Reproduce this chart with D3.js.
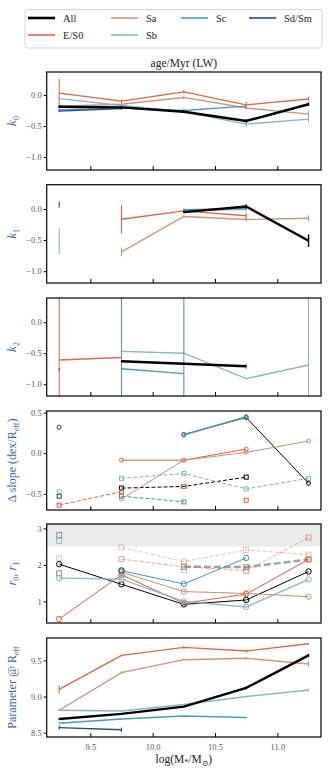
<!DOCTYPE html>
<html><head><meta charset="utf-8">
<script src="https://cdn.jsdelivr.net/npm/d3@7"></script>
<style>body{margin:0;background:#fff}svg{display:block}text{font-family:"Liberation Serif","DejaVu Serif",serif}</style>
</head><body><svg id="c" width="332" height="775"></svg>
<script>
// ---------- DATA ----------
const massBins = [9.25, 9.75, 10.25, 10.75, 11.25];
const xTicks = [9.5, 10.0, 10.5, 11.0];
const groups = ["All", "E/S0", "Sa", "Sb", "Sc", "Sd/Sm"];
const groupColors = ["#000000", "#d95f45", "#c4907a", "#88afbd", "#4b91b3", "#1d3d78"];
const titleText = "age/Myr (LW)";

// k0
const k0_All = [-0.19, -0.20, -0.27, -0.42, -0.15];
const k0_ES0 = [0.03, -0.10, 0.05, -0.16, -0.065];
const k0_Sa  = [-0.18, -0.15, -0.04, -0.21, -0.31];
const k0_Sb  = [-0.06, -0.17, -0.27, -0.47, -0.39];
const k0_Sc  = [-0.24, -0.21, -0.25, -0.18, null];
const k0_Sd  = [-0.26, -0.22, null, null, null];
const k0e_All = [0.02, 0.02, 0.02, 0.03, 0.03];
const k0e_ES0 = [0.23, 0.03, 0.03, 0.05, 0.03];
const k0e_Sa  = [0.02, 0.03, 0.03, 0.03, 0.05];
const k0e_Sb  = [0.03, 0.02, 0.02, 0.05, 0.05];
const k0e_Sc  = [0.02, 0.02, 0.03, 0.03, null];
const k0e_Sd  = [0.02, 0.02, null, null, null];
const k0Ticks = [0.0, -0.5, -1.0];

// k1
const k1_All = [null, null, -0.05, 0.04, -0.51];
const k1_ES0 = [null, -0.165, -0.03, -0.11, null];
const k1_Sa  = [null, -0.69, -0.12, -0.17, -0.15];
const k1_Sb  = [-0.52, null, -0.02, -0.01, null];
const k1_Sc  = [null, null, -0.01, 0.01, null];
const k1_Sd  = [0.07, null, null, null, null];
const k1e_All = [null, null, 0.02, 0.03, 0.10];
const k1e_ES0 = [null, 0.23, 0.02, 0.05, null];
const k1e_Sa  = [null, 0.07, 0.02, 0.03, 0.05];
const k1e_Sb  = [0.21, null, 0.02, 0.02, null];
const k1e_Sc  = [null, null, 0.03, 0.03, null];
const k1e_Sd  = [0.05, null, null, null, null];
const k1Ticks = [0.0, -0.5, -1.0];

// k2
const k2_All = [null, -0.63, -0.67, -0.71, null];
const k2_ES0 = [-0.61, -0.57, null, -0.72, null];
const k2_Sa  = [null, null, null, null, null];
const k2_Sb  = [null, -0.47, -0.50, -0.91, -0.69];
const k2_Sc  = [null, -0.75, -0.83, null, null];
const k2_Sd  = [-0.76, null, null, null, null];
const k2e_All = [null, 0.01, 0.01, 0.01, null];
const k2e_ES0 = [9, 0.01, null, 0.04, null];
const k2e_Sa  = [null, null, null, null, null];
const k2e_Sb  = [null, 0.01, 0.01, 0.01, 9];
const k2e_Sc  = [null, 9, 9, null, null];
const k2e_Sd  = [0.02, null, null, null, null];
const k2Ticks = [0.0, -0.5, -1.0];

// Delta slope: circles (solid) and squares (dashed)
const ds_c_All = [null, null, 0.23, 0.44, -0.37];
const ds_c_ES0 = [null, -0.086, -0.086, 0.05, null];
const ds_c_Sa  = [null, -0.565, -0.086, 0.01, 0.15];
const ds_c_Sb  = [-0.47, null, 0.22, 0.45, null];
const ds_c_Sc  = [null, null, 0.23, 0.45, null];
const ds_c_Sd  = [0.32, null, null, null, null];
const ds_s_All = [null, -0.43, -0.41, -0.295, null];
const ds_s_ES0 = [-0.64, -0.475, null, -0.58, null];
const ds_s_Sa  = [null, null, -0.41, null, null];
const ds_s_Sb  = [null, -0.31, -0.25, -0.44, -0.31];
const ds_s_Sc  = [null, -0.53, -0.60, null, null];
const ds_s_Sd  = [-0.53, null, null, null, null];
const dsTicks = [0.5, 0.0, -0.5];

// r0 (circles, solid) and r1 (squares, dashed)
const r_c_All = [2.02, 1.47, 0.92, 1.04, 1.82];
const r_c_ES0 = [0.52, 1.73, 0.95, 1.20, 2.15];
const r_c_Sa  = [null, 1.80, 1.27, 1.22, 1.13];
const r_c_Sb  = [1.64, 1.61, 1.00, 0.85, 1.60];
const r_c_Sc  = [null, 1.84, 1.48, 2.19, null];
const r_c_Sd  = [null, 1.85, null, null, null];
const r_s_All = [2.82, null, 1.95, 1.94, 2.15];
const r_s_ES0 = [null, 2.16, 1.95, 1.84, 2.75];
const r_s_Sa  = [null, 2.48, 2.09, 2.41, 2.28];
const r_s_Sb  = [2.18, null, 1.86, null, null];
const r_s_Sc  = [2.66, null, null, null, null];
const r_s_Sd  = [1.77, null, null, null, null];
const rTicks = [1, 2, 3];
const rBand = 2.5;

// Parameter @ Reff
const p_All = [8.69, 8.76, 8.86, 9.12, 9.57];
const p_ES0 = [9.10, 9.57, 9.68, 9.63, 9.73];
const p_Sa  = [8.81, 9.33, 9.51, 9.53, 9.45];
const p_Sb  = [8.81, 8.80, 8.89, 9.00, 9.09];
const p_Sc  = [8.63, 8.69, 8.73, 8.71, null];
const p_Sd  = [8.57, 8.54, null, null, null];
const pe_All = [0.01, 0.01, 0.01, 0.02, 0.02];
const pe_ES0 = [0.06, 0.01, 0.02, 0.02, 0.01];
const pe_Sa  = [0.01, 0.02, 0.01, 0.02, 0.04];
const pe_Sb  = [0.01, 0.01, 0.01, 0.01, 0.02];
const pe_Sc  = [0.01, 0.01, 0.01, 0.01, null];
const pe_Sd  = [0.03, 0.03, null, null, null];
const pTicks = [8.5, 9.0, 9.5];

// ---------- LAYOUT ----------
const svg = d3.select("#c");
const L = 46.7, R = 321;
const x = d3.scaleLinear().domain([9.15, 11.35]).range([L, R]);
const tickCol = "#4d5566", labCol = "#3f64a6";

const panels = [
  {top: 72, bot: 170, dom: [-1.21, 0.37], ticks: k0Ticks, fmt: d3.format(".1f")},
  {top: 184.7, bot: 283, dom: [-1.19, 0.39], ticks: k1Ticks, fmt: d3.format(".1f")},
  {top: 298, bot: 396, dom: [-1.19, 0.39], ticks: k2Ticks, fmt: d3.format(".1f")},
  {top: 411, bot: 510, dom: [-0.70, 0.52], ticks: dsTicks, fmt: d3.format(".1f")},
  {top: 524, bot: 623, dom: [0.41, 3.12], ticks: rTicks, fmt: d3.format("d")},
  {top: 638, bot: 737, dom: [8.44, 9.81], ticks: pTicks, fmt: d3.format(".1f")}
];
panels.forEach((p, i) => {
  p.y = d3.scaleLinear().domain(p.dom).range([p.bot, p.top]);
  p.g = svg.append("g");
  svg.append("clipPath").attr("id", "clip" + i).append("rect")
    .attr("x", L).attr("y", p.top).attr("width", R - L).attr("height", p.bot - p.top);
});

function minusFmt(f){ return v => f(v).replace("-", "\u2212"); }

function frame(p, i, showX) {
  const g = p.g;
  const ya = g.append("g").attr("transform", `translate(${L},0)`)
    .call(d3.axisLeft(p.y).tickValues(p.ticks).tickFormat(minusFmt(p.fmt)).tickSize(3).tickPadding(2));
  ya.attr("font-family", null);
  ya.select(".domain").remove();
  ya.selectAll("text").attr("fill", tickCol).style("font-size", "8.5px").style("font-family", '"Liberation Serif",serif');
  ya.selectAll("line").attr("stroke", "#000");
  const xa = g.append("g").attr("transform", `translate(0,${p.bot})`)
    .call(d3.axisBottom(x).tickValues(xTicks).tickFormat(showX ? d3.format(".1f") : "").tickSizeInner(-4).tickSizeOuter(0).tickPadding(7));
  xa.attr("font-family", null);
  xa.select(".domain").remove();
  xa.selectAll("text").attr("fill", tickCol).style("font-size", "8.5px").style("font-family", '"Liberation Serif",serif');
  xa.selectAll("line").attr("stroke", "#000");
}
function border(p) {
  p.g.append("rect").attr("x", L).attr("y", p.top).attr("width", R - L).attr("height", p.bot - p.top)
    .attr("fill", "none").attr("stroke", "#000").attr("stroke-width", 1.2);
}

function linePanel(p, i, vals, errs) {
  const g = p.g.append("g").attr("clip-path", `url(#clip${i})`);
  const order = [1, 2, 3, 4, 5, 0];
  order.forEach(k => {
    const v = vals[k], e = errs[k], col = groupColors[k];
    const pts = massBins.map((m, j) => ({m, v: v[j], e: e[j]}));
    const line = d3.line().defined(d => d.v != null).x(d => x(d.m)).y(d => p.y(d.v));
    g.append("path").attr("d", line(pts)).attr("fill", "none").attr("stroke", col)
      .attr("stroke-width", k === 0 ? 2.4 : 1.4).attr("stroke-opacity", k === 0 ? 1 : 0.95);
    pts.filter(d => d.v != null && d.e != null).forEach(d => {
      g.append("line").attr("x1", x(d.m)).attr("x2", x(d.m))
        .attr("y1", p.y(d.v - d.e)).attr("y2", p.y(d.v + d.e))
        .attr("stroke", col).attr("stroke-width", k === 0 ? 1.4 : 1);
    });
  });
}

function markerPanel(p, i, circ, sq, opts) {
  const g = p.g.append("g").attr("clip-path", `url(#clip${i})`);
  const order = [0, 1, 2, 3, 4, 5];
  const line = d3.line().defined(d => d.v != null).x(d => x(d.m)).y(d => p.y(d.v));
  order.forEach(k => {
    const col = (k === 0 && opts.allSqCol) ? opts.allSqCol : groupColors[k];
    const pts = massBins.map((m, j) => ({m, v: sq[k][j]}));
    g.append("path").attr("d", line(pts)).attr("fill", "none").attr("stroke", col)
      .attr("stroke-width", k === 0 ? opts.allSqW : 1).attr("stroke-dasharray", k === 0 ? opts.allDash : opts.dash)
      .attr("stroke-opacity", opts.sqOp);
    pts.filter(d => d.v != null).forEach(d => {
      g.append("rect").attr("x", x(d.m) - opts.sq / 2).attr("y", p.y(d.v) - opts.sq / 2)
        .attr("width", opts.sq).attr("height", opts.sq).attr("fill", "none")
        .attr("stroke", col).attr("stroke-width", 1).attr("stroke-opacity", opts.sqOp);
    });
  });
  order.forEach(k => {
    const col = groupColors[k];
    const pts = massBins.map((m, j) => ({m, v: circ[k][j]}));
    g.append("path").attr("d", line(pts)).attr("fill", "none").attr("stroke", col)
      .attr("stroke-width", k === 3 ? 1.5 : 1).attr("stroke-opacity", k === 3 ? 0.85 : 1);
    pts.filter(d => d.v != null).forEach(d => {
      g.append("circle").attr("cx", x(d.m)).attr("cy", p.y(d.v)).attr("r", opts.r)
        .attr("fill", "none").attr("stroke", col).attr("stroke-width", 1);
    });
  });
}

{
  const p = panels[4];
  p.g.append("rect").attr("x", L).attr("y", p.top).attr("width", R - L)
    .attr("height", p.y(rBand) - p.top).attr("fill", "#ebebeb");
}

panels.forEach((p, i) => frame(p, i, i === 5));

linePanel(panels[0], 0, [k0_All, k0_ES0, k0_Sa, k0_Sb, k0_Sc, k0_Sd], [k0e_All, k0e_ES0, k0e_Sa, k0e_Sb, k0e_Sc, k0e_Sd]);
linePanel(panels[1], 1, [k1_All, k1_ES0, k1_Sa, k1_Sb, k1_Sc, k1_Sd], [k1e_All, k1e_ES0, k1e_Sa, k1e_Sb, k1e_Sc, k1e_Sd]);
linePanel(panels[2], 2, [k2_All, k2_ES0, k2_Sa, k2_Sb, k2_Sc, k2_Sd], [k2e_All, k2e_ES0, k2e_Sa, k2e_Sb, k2e_Sc, k2e_Sd]);
markerPanel(panels[3], 3, [ds_c_All, ds_c_ES0, ds_c_Sa, ds_c_Sb, ds_c_Sc, ds_c_Sd], [ds_s_All, ds_s_ES0, ds_s_Sa, ds_s_Sb, ds_s_Sc, ds_s_Sd],
  {r: 2, sq: 4, dash: "4,2", allDash: "4,2", allSqW: 1, sqOp: 1});
markerPanel(panels[4], 4, [r_c_All, r_c_ES0, r_c_Sa, r_c_Sb, r_c_Sc, r_c_Sd], [r_s_All, r_s_ES0, r_s_Sa, r_s_Sb, r_s_Sc, r_s_Sd],
  {r: 2.7, sq: 5, dash: "4,2", allDash: "7,3", allSqW: 2.5, sqOp: 0.55, allSqCol: "#555"});
linePanel(panels[5], 5, [p_All, p_ES0, p_Sa, p_Sb, p_Sc, p_Sd], [pe_All, pe_ES0, pe_Sa, pe_Sb, pe_Sc, pe_Sd]);

panels.forEach(border);

// ---------- TEXT ----------
svg.append("text").attr("x", (L + R) / 2).attr("y", 67).attr("text-anchor", "middle")
  .style("font-size", "11.5px").attr("fill", "#222").text(titleText);

function ylab(p, parts, xpos, fs) {
  const cy = (p.top + p.bot) / 2;
  const t = svg.append("text").attr("transform", `translate(${xpos},${cy}) rotate(-90)`)
    .attr("text-anchor", "middle").attr("fill", labCol).style("font-size", (fs || 11.5) + "px");
  parts.forEach(pt => {
    const s = t.append("tspan").text(pt.t);
    if (pt.i) s.style("font-style", "italic");
    if (pt.sub) s.style("font-size", "8px").attr("dy", 3);
    if (pt.up) s.attr("dy", -3);
  });
}
ylab(panels[0], [{t: "k", i: 1}, {t: "0", sub: 1}], 16, 13);
ylab(panels[1], [{t: "k", i: 1}, {t: "1", sub: 1}], 16, 13);
ylab(panels[2], [{t: "k", i: 1}, {t: "2", sub: 1}], 16, 13);
ylab(panels[3], [{t: "\u0394 slope (dex/R"}, {t: "eff", sub: 1}, {t: ")", up: 1}], 16, 12);
ylab(panels[4], [{t: "r", i: 1}, {t: "0", sub: 1}, {t: ", ", up: 1}, {t: "r", i: 1}, {t: "1", sub: 1}], 16, 12.5);
ylab(panels[5], [{t: "Parameter @ R"}, {t: "eff", sub: 1}], 16, 12);

{
  const t = svg.append("text").attr("x", (L + R) / 2).attr("y", 763).attr("text-anchor", "middle")
    .attr("fill", "#222").style("font-size", "11.5px");
  t.append("tspan").text("log(M");
  t.append("tspan").text("*").style("font-size", "8px").attr("dy", 2);
  t.append("tspan").text("/M").attr("dy", -2);
  t.append("tspan").text("\u2299").style("font-size", "8px").attr("dy", 3);
  t.append("tspan").text(")").attr("dy", -3);
}

// ---------- LEGEND ----------
{
  const lg = svg.append("g");
  lg.append("rect").attr("x", 25).attr("y", 9.5).attr("width", 297).attr("height", 38.5).attr("rx", 2.5)
    .attr("fill", "#fff").attr("stroke", "#d4d4d4").attr("stroke-width", 1);
  const pos = [[28, 18], [28, 35], [111, 18], [111, 35], [181, 18], [249, 18]];
  groups.forEach((gname, k) => {
    const [lx, ly] = pos[k];
    lg.append("line").attr("x1", lx).attr("x2", lx + 27).attr("y1", ly).attr("y2", ly)
      .attr("stroke", groupColors[k]).attr("stroke-width", k === 0 ? 2.6 : 1.5);
    lg.append("text").attr("x", lx + 35).attr("y", ly + 3.5).style("font-size", "10.5px").attr("fill", "#222").text(gname);
  });
}
</script></body></html>
